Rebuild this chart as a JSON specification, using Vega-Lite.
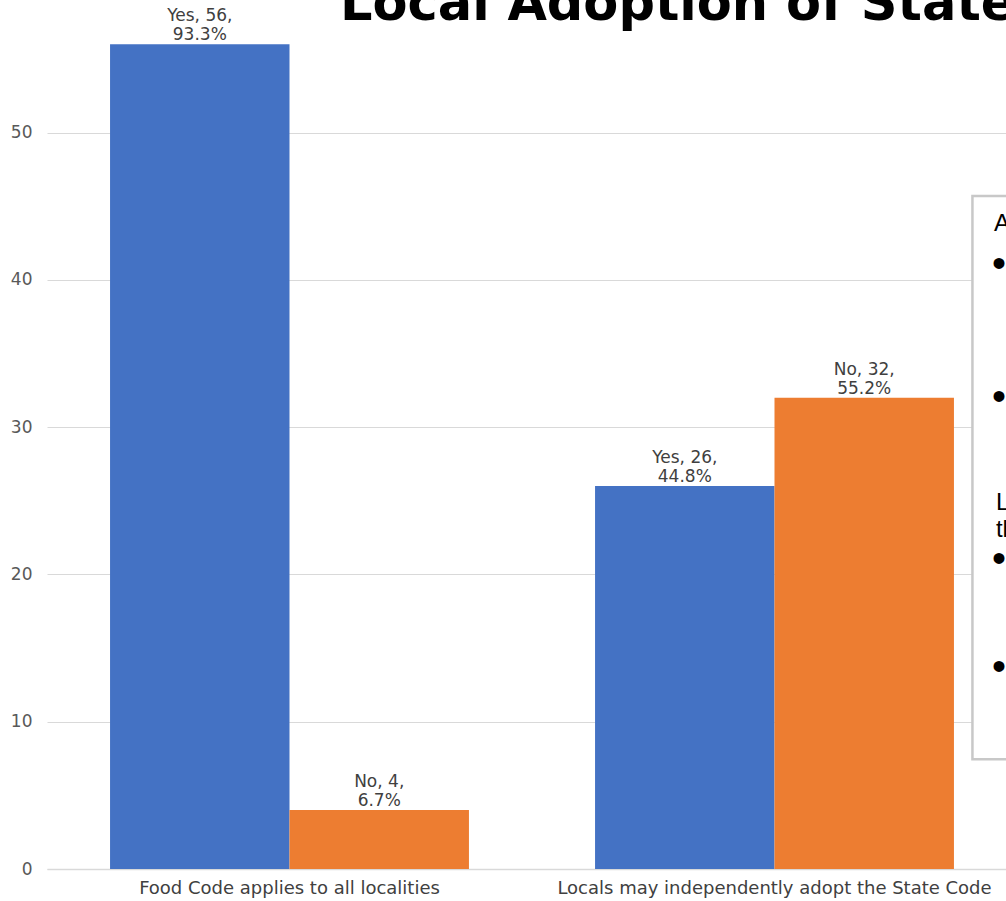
{
  "$schema": "https://vega.github.io/schema/vega-lite/v6.json",
  "width": 959,
  "height": 869,
  "autosize": {"type": "none"},
  "padding": {"left": 47, "top": 0, "right": 0, "bottom": 32},
  "background": "white",
  "config": {
    "view": {"stroke": null},
    "axis": {
      "labelFont": "DejaVu Sans",
      "labelFontSize": 16,
      "ticks": false,
      "title": null,
      "labelLimit": 0
    }
  },
  "layer": [
    {
      "data": {
        "values": [
          {"category": "Food Code applies to all localities", "answer": "Yes", "count": 56, "label": "Yes, 56,\n93.3%"},
          {"category": "Food Code applies to all localities", "answer": "No", "count": 4, "label": "No,  4,\n6.7%"},
          {"category": "Locals may independently adopt the State Code", "answer": "Yes", "count": 26, "label": "Yes, 26,\n44.8%"},
          {"category": "Locals may independently adopt the State Code", "answer": "No", "count": 32, "label": "No, 32,\n55.2%"}
        ]
      },
      "encoding": {
        "x": {
          "field": "category",
          "type": "nominal",
          "sort": null,
          "scale": {"paddingInner": 0.26, "paddingOuter": 0.13, "range": [0, 970]},
          "axis": {
            "labelAngle": 0,
            "labelPadding": 10,
            "labelFontSize": 18,
            "labelColor": "#404040",
            "domainColor": "#d9d9d9",
            "domainWidth": 1.5,
            "grid": false
          }
        },
        "xOffset": {
          "field": "answer",
          "type": "nominal",
          "sort": ["Yes", "No"],
          "scale": {"domain": ["Yes", "No"], "paddingInner": 0, "paddingOuter": 0}
        },
        "y": {
          "field": "count",
          "type": "quantitative",
          "scale": {"domain": [0, 59], "nice": false, "zero": true},
          "axis": {
            "values": [0, 10, 20, 30, 40, 50],
            "grid": true,
            "gridColor": "#d9d9d9",
            "gridWidth": 1,
            "domain": false,
            "labelPadding": 15,
            "labelFontSize": 17,
            "labelColor": "#595959"
          }
        }
      },
      "layer": [
        {
          "mark": {"type": "bar"},
          "encoding": {
            "color": {
              "field": "answer",
              "type": "nominal",
              "scale": {"domain": ["Yes", "No"], "range": ["#4472C4", "#ED7D31"]},
              "legend": null
            }
          }
        },
        {
          "mark": {
            "type": "text",
            "baseline": "alphabetic",
            "align": "center",
            "dy": -23,
            "lineBreak": "\n",
            "lineHeight": 19,
            "font": "DejaVu Sans",
            "fontSize": 17,
            "color": "#404040"
          },
          "encoding": {"text": {"field": "label", "type": "nominal"}}
        }
      ]
    },
    {
      "data": {"values": [{}]},
      "layer": [
        {
          "mark": {"type": "rect", "fill": "white", "stroke": "#c8c8c8", "strokeWidth": 2.5},
          "encoding": {
            "x": {"datum": 96.5, "type": "quantitative", "scale": {"domain": [0, 100], "nice": false, "zero": false}, "axis": null},
            "x2": {"datum": 110},
            "y": {"datum": 45.7, "type": "quantitative"},
            "y2": {"datum": 7.45}
          }
        },
        {
          "mark": {"type": "text", "align": "left", "baseline": "alphabetic", "font": "DejaVu Sans", "fontWeight": "bold", "fontSize": 51, "color": "#000000"},
          "encoding": {
            "x": {"datum": 30.55, "type": "quantitative"},
            "y": {"datum": 57.64, "type": "quantitative"},
            "text": {"value": "Local Adoption of State Food Code"}
          }
        },
        {
          "mark": {"type": "text", "align": "left", "baseline": "alphabetic", "font": "Liberation Sans", "fontSize": 24, "color": "#000000"},
          "encoding": {
            "x": {"datum": 98.75, "type": "quantitative"},
            "y": {"datum": 43.3, "type": "quantitative"},
            "text": {"value": "Applies to all localities:"}
          }
        },
        {
          "mark": {"type": "text", "align": "left", "baseline": "alphabetic", "font": "Liberation Sans", "fontSize": 24, "lineBreak": "\n", "lineHeight": 27, "color": "#000000"},
          "encoding": {
            "x": {"datum": 98.95, "type": "quantitative"},
            "y": {"datum": 24.4, "type": "quantitative"},
            "text": {"value": "Locals may independently adopt\nthe State Code:"}
          }
        },
        {
          "mark": {"type": "text", "align": "left", "baseline": "middle", "font": "Liberation Sans", "fontSize": 40, "color": "#000000"},
          "encoding": {
            "x": {"datum": 98.55, "type": "quantitative"},
            "y": {"datum": 41.0, "type": "quantitative"},
            "text": {"value": "•"}
          }
        },
        {
          "mark": {"type": "text", "align": "left", "baseline": "middle", "font": "Liberation Sans", "fontSize": 40, "color": "#000000"},
          "encoding": {
            "x": {"datum": 98.55, "type": "quantitative"},
            "y": {"datum": 32.0, "type": "quantitative"},
            "text": {"value": "•"}
          }
        },
        {
          "mark": {"type": "text", "align": "left", "baseline": "middle", "font": "Liberation Sans", "fontSize": 40, "color": "#000000"},
          "encoding": {
            "x": {"datum": 98.55, "type": "quantitative"},
            "y": {"datum": 21.0, "type": "quantitative"},
            "text": {"value": "•"}
          }
        },
        {
          "mark": {"type": "text", "align": "left", "baseline": "middle", "font": "Liberation Sans", "fontSize": 40, "color": "#000000"},
          "encoding": {
            "x": {"datum": 98.55, "type": "quantitative"},
            "y": {"datum": 13.65, "type": "quantitative"},
            "text": {"value": "•"}
          }
        }
      ]
    }
  ],
  "resolve": {"scale": {"x": "independent"}, "axis": {"x": "independent"}}
}
